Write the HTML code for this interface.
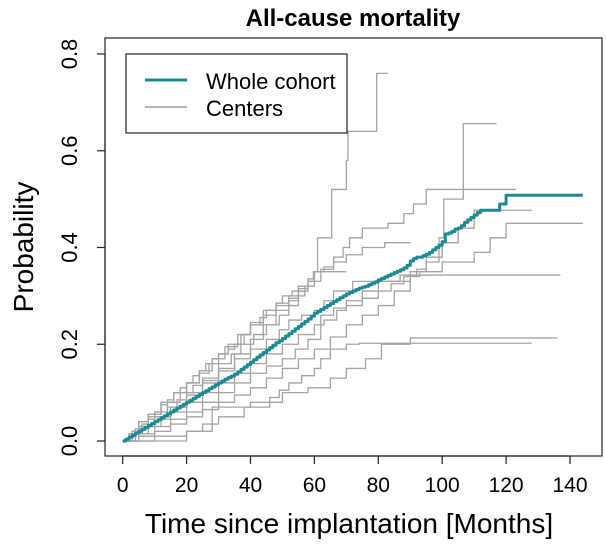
<!DOCTYPE html>
<html><head><meta charset="utf-8">
<style>
html,body{margin:0;padding:0;background:#fff;}
svg{display:block;font-family:"Liberation Sans",Arial,sans-serif;}
</style></head>
<body>
<svg id="chart" width="606" height="546" viewBox="0 0 606 546">
<text x="353" y="26" text-anchor="middle" font-size="24" font-weight="bold">All-cause mortality</text>
<rect x="105" y="38" width="497" height="418" fill="none" stroke="#222" stroke-width="1.2"/>
<g id="xaxis"></g>
<g id="yaxis"></g>
<g id="centers"></g>
<g id="cohort"></g>
<text x="349" y="533" text-anchor="middle" font-size="28">Time since implantation [Months]</text>
<text transform="translate(33,247) rotate(-90)" text-anchor="middle" font-size="28">Probability</text>
<g>
<rect x="126" y="54" width="221" height="79" fill="#fff" stroke="#222" stroke-width="1.2"/>
<line x1="145" y1="80" x2="187" y2="80" stroke="#1b8a95" stroke-width="3"/>
<text x="206" y="89" font-size="22">Whole cohort</text>
<line x1="145" y1="107" x2="187" y2="107" stroke="#a0a0a0" stroke-width="1.5"/>
<text x="206" y="116" font-size="22">Centers</text>
</g>
</svg>
<script>
const xTicks = [0,20,40,60,80,100,120,140];
const yTicks = [0.0,0.2,0.4,0.6,0.8];
const yTickLabels = ["0.0","0.2","0.4","0.6","0.8"];
const cohortTimes = [0,1,2,3,4,5,6,7,8,9,10,11,12,13,14,15,16,17,18,19,20,21,22,23,24,25,26,27,28,29,30,31,32,33,34,35,36,37,38,39,40,41,42,43,44,45,46,47,48,49,50,51,52,53,54,55,56,57,58,59,60,61,62,63,64,65,66,67,68,69,70,71,72,73,74,75,76,77,78,79,80,81,82,83,84,85,86,87,88,89,90,91,92,93,94,95,96,97,98,99,100,101,102,103,104,105,106,107,108,109,110,111,112,117,118,120,144];
const cohortProbs = [0,0.004,0.008,0.012,0.016,0.02,0.024,0.028,0.032,0.036,0.04,0.044,0.048,0.052,0.056,0.06,0.064,0.068,0.072,0.076,0.08,0.084,0.088,0.092,0.096,0.1,0.104,0.108,0.112,0.116,0.12,0.124,0.128,0.131,0.134,0.138,0.143,0.148,0.153,0.158,0.163,0.168,0.173,0.178,0.183,0.188,0.193,0.198,0.203,0.207,0.212,0.217,0.222,0.227,0.232,0.237,0.242,0.247,0.252,0.258,0.264,0.268,0.272,0.276,0.28,0.284,0.288,0.292,0.296,0.3,0.304,0.307,0.31,0.313,0.316,0.318,0.32,0.323,0.326,0.329,0.333,0.336,0.339,0.342,0.345,0.348,0.351,0.354,0.358,0.363,0.372,0.377,0.38,0.38,0.383,0.386,0.39,0.395,0.4,0.405,0.412,0.428,0.43,0.433,0.438,0.44,0.445,0.452,0.457,0.462,0.467,0.472,0.477,0.477,0.49,0.508,0.508];
const center1 = [[0,0],[2,0.01],[4,0.025],[6,0.035],[8,0.05],[10,0.06],[12,0.075],[14,0.085],[16,0.1],[18,0.11],[20,0.12],[22,0.135],[24,0.145],[26,0.16],[28,0.17],[30,0.18],[33,0.19],[35,0.2],[38,0.22],[40,0.24],[43,0.255],[45,0.27],[48,0.285],[50,0.3],[53,0.31],[55,0.32],[58,0.335],[59.7,0.35],[61,0.42],[65.4,0.52],[70,0.58],[70.5,0.64],[79.5,0.76],[83,0.76]];
const center2 = [[0,0],[4,0.015],[8,0.03],[12,0.045],[15,0.06],[20,0.08],[25,0.1],[30,0.12],[35,0.14],[40,0.16],[45,0.18],[50,0.2],[55,0.22],[60,0.24],[63,0.25],[67,0.27],[70,0.28],[75,0.295],[80,0.31],[84,0.325],[88,0.34],[92,0.355],[95,0.37],[99,0.42],[100.5,0.5],[106.6,0.656],[117,0.656]];
const center3 = [[0,0],[2,0.015],[5,0.04],[8,0.055],[12,0.08],[16,0.1],[20,0.12],[24,0.145],[28,0.17],[32,0.195],[36,0.22],[40,0.245],[44,0.27],[48,0.285],[52,0.3],[55,0.315],[58,0.33],[62,0.355],[66,0.38],[69,0.4],[71,0.42],[75,0.44],[83,0.45],[88,0.47],[91,0.49],[95,0.52],[123,0.52]];
const center4 = [[0,0],[5,0.015],[10,0.03],[15,0.045],[20,0.06],[25,0.08],[30,0.1],[35,0.12],[40,0.14],[45,0.155],[50,0.17],[54,0.19],[58,0.21],[62,0.26],[66,0.275],[70,0.29],[75,0.31],[80,0.33],[90,0.35],[95,0.38],[100,0.41],[105,0.44],[110,0.477],[128,0.477]];
const center5 = [[0,0],[5,0.01],[10,0.02],[15,0.035],[20,0.05],[25,0.065],[30,0.08],[35,0.095],[40,0.11],[45,0.13],[50,0.15],[55,0.17],[60,0.19],[65,0.215],[70,0.24],[75,0.26],[80,0.28],[85,0.31],[90,0.34],[93,0.35],[100,0.37],[110,0.39],[115,0.42],[120,0.45],[144,0.45]];
const center6 = [[0,0],[3,0.02],[5,0.03],[10,0.05],[15,0.07],[20,0.095],[25,0.12],[30,0.145],[35,0.17],[40,0.19],[45,0.21],[49,0.23],[52,0.25],[56,0.26],[60,0.27],[63,0.29],[66,0.31],[72,0.33],[86.8,0.343],[137,0.343]];
const center7 = [[0,0],[20,0.02],[28,0.07],[40,0.08],[50,0.1],[58,0.11],[65,0.13],[70,0.15],[76,0.17],[81,0.2],[90,0.213],[136,0.213]];
const center8 = [[0,0],[10,0.01],[20,0.02],[25,0.035],[30,0.05],[38,0.07],[46,0.09],[49,0.105],[52,0.12],[56,0.135],[60,0.15],[62,0.17],[65,0.19],[70,0.2],[74,0.202],[128,0.202]];
const center9 = [[0,0],[2,0.015],[5,0.04],[8,0.055],[12,0.08],[16,0.1],[20,0.12],[24,0.14],[27,0.16],[30,0.18],[33,0.2],[37,0.22],[40,0.24],[44,0.26],[48,0.28],[52,0.295],[55,0.31],[57,0.31]];
const center10 = [[0,0],[3,0.02],[5,0.03],[8,0.045],[10,0.06],[14,0.08],[18,0.1],[22,0.115],[25,0.13],[30,0.16],[34,0.18],[37,0.2],[41,0.22],[45,0.24],[49,0.26],[52,0.28],[55,0.3],[57,0.32],[60,0.35],[70,0.35]];
const center11 = [[0,0],[3,0.015],[6,0.03],[10,0.05],[14,0.07],[17,0.085],[20,0.1],[25,0.125],[30,0.15],[35,0.18],[40,0.21],[44,0.24],[48,0.27],[52,0.29],[55,0.31],[58,0.33],[60,0.35],[63,0.36],[66,0.37],[70,0.385],[75,0.4],[82,0.41],[90,0.41]];
const centers = [center1,center2,center3,center4,center5,center6,center7,center8,center9,center10,center11];

const NS="http://www.w3.org/2000/svg";
function sx(t){return 122.7 + t*3.195;}
function sy(p){return 441 - p*483.75;}
function mk(tag,attrs,parent){const e=document.createElementNS(NS,tag);for(const k in attrs)e.setAttribute(k,attrs[k]);parent.appendChild(e);return e;}
function stepPath(pts){let d="M"+sx(pts[0][0])+","+sy(pts[0][1]);for(let i=1;i<pts.length;i++){d+=" H"+sx(pts[i][0])+" V"+sy(pts[i][1]);}return d;}

const xa=document.getElementById("xaxis");
const ya=document.getElementById("yaxis");
mk("line",{x1:sx(0),x2:sx(140),y1:456,y2:456,stroke:"#222","stroke-width":1.2},xa);
xTicks.forEach(t=>{
  const l=mk("line",{x1:sx(t),x2:sx(t),y1:456,y2:464,stroke:"#222","stroke-width":1.2},xa);
  
  
  const tx=mk("text",{x:sx(t),y:492,"text-anchor":"middle","font-size":21},xa);
  tx.textContent=t;
  
  
});
yTicks.forEach((p,i)=>{
  const l=mk("line",{x1:97,x2:105,y1:sy(p),y2:sy(p),stroke:"#222","stroke-width":1.2},ya);
  
  
  const tx=mk("text",{transform:"translate(77,"+sy(p)+") rotate(-90)","text-anchor":"middle","font-size":22},ya);
  tx.textContent=yTickLabels[i];
  
  
});
mk("line",{x1:105,x2:105,y1:sy(0.8),y2:sy(0),stroke:"#222","stroke-width":1.2},ya);

const cg=document.getElementById("centers");
centers.forEach((c,i)=>{
  const p=mk("path",{d:stepPath(c),fill:"none",stroke:"#a3a3a3","stroke-width":1.3},cg);
  
  
});
const co=document.getElementById("cohort");
const cpts=cohortTimes.map((t,i)=>[t,cohortProbs[i]]);
const cp=mk("path",{d:stepPath(cpts),fill:"none",stroke:"#1b8a95","stroke-width":3,"stroke-linejoin":"round"},co);


</script>
</body></html>
